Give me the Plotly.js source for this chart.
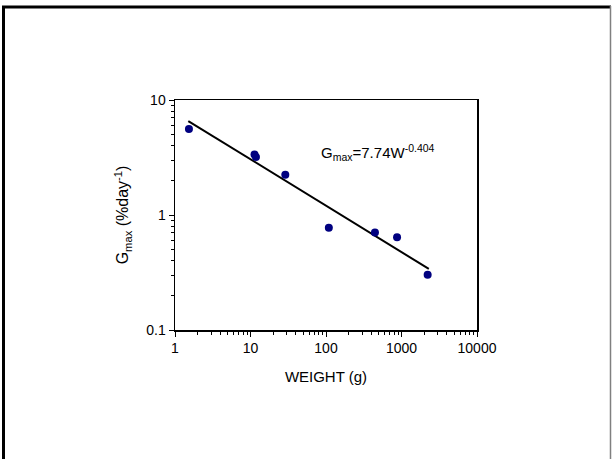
<!DOCTYPE html>
<html>
<head>
<meta charset="utf-8">
<script src="https://cdn.plot.ly/plotly-3.0.1.min.js"></script>
<style>
  html, body { margin: 0; padding: 0; background: #fff; }
  #chart { width: 612px; height: 459px; }
</style>
</head>
<body>
<div id="chart"></div>
<script>
// Observed data (weight in g, Gmax in %/day)
const weight = [1.53, 11.3, 11.8, 28.9, 109, 445, 873, 2220];
const gmax   = [5.6, 3.35, 3.2, 2.24, 0.775, 0.705, 0.64, 0.302];

// Fitted power-law line endpoints
const fitWeight = [1.5, 2300];
const fitGmax   = [6.56, 0.34];

const xTickVals = [1, 10, 100, 1000, 10000];
const xTickText = ['1', '10', '100', '1000', '10000'];
const yTickVals = [0.1, 1, 10];
const yTickText = ['0.1', '1', '10'];

const font = 'Liberation Sans, Arial, sans-serif';

const traces = [
  {
    x: fitWeight, y: fitGmax, type: 'scatter', mode: 'lines',
    line: { color: '#000000', width: 2 }, hoverinfo: 'skip', showlegend: false
  },
  {
    x: weight, y: gmax, type: 'scatter', mode: 'markers',
    marker: { color: '#000080', size: 8 }, showlegend: false
  }
];

const W = 612, H = 459, L = 175, R = 135, T = 100, B = 129;
const pw = W - L - R, ph = H - T - B;
const px = v => (v - L) / pw;
const py = v => (H - B - v) / ph;

const layout = {
  width: W, height: H,
  margin: { l: L, r: R, t: T, b: B },
  paper_bgcolor: '#ffffff', plot_bgcolor: '#ffffff',
  font: { family: font, size: 14, color: '#000' },
  showlegend: false,
  xaxis: {
    type: 'log', range: [0, 4],
    tickvals: xTickVals, ticktext: xTickText,
    ticks: 'outside', ticklen: 5, tickwidth: 1, tickcolor: '#000',
    minor: { dtick: 'D1', ticks: 'outside', ticklen: 3, tickcolor: '#000', showgrid: false },
    showline: true, linecolor: '#000', linewidth: 1.5, mirror: true,
    showgrid: false, zeroline: false,
    tickfont: { size: 14 },
    title: { text: 'WEIGHT (g)', font: { size: 15 }, standoff: 16 }
  },
  yaxis: {
    type: 'log', range: [-1, 1],
    tickvals: yTickVals, ticktext: yTickText,
    ticks: 'outside', ticklen: 5, tickwidth: 1, tickcolor: '#000',
    minor: { dtick: 'D1', ticks: 'outside', ticklen: 3, tickcolor: '#000', showgrid: false },
    showline: true, linecolor: '#000', linewidth: 1.5, mirror: true,
    showgrid: false, zeroline: false,
    tickfont: { size: 14 },
    title: { text: 'G<sub>max</sub> (%day<sup>-1</sup>)', font: { size: 16 }, standoff: 13 }
  },
  annotations: [
    {
      x: Math.log10(80.7), y: Math.log10(3.5), xref: 'x', yref: 'y',
      text: 'G<sub>max</sub>=7.74W<sup>-0.404</sup>',
      showarrow: false, xanchor: 'left', yanchor: 'middle',
      font: { size: 15, color: '#000' }
    }
  ],
  shapes: [
    { type: 'line', xref: 'paper', yref: 'paper', x0: px(3.5), x1: px(3.5), y0: py(6), y1: py(459), line: { color: '#000', width: 3 } },
    { type: 'line', xref: 'paper', yref: 'paper', x0: px(2), x1: px(611), y0: py(7), y1: py(7), line: { color: '#000', width: 3 } },
    { type: 'line', xref: 'paper', yref: 'paper', x0: px(610.5), x1: px(610.5), y0: py(6), y1: py(459), line: { color: '#808080', width: 1.5 } }
  ]
};

Plotly.newPlot('chart', traces, layout, { displayModeBar: false, staticPlot: true });
</script>
</body>
</html>
